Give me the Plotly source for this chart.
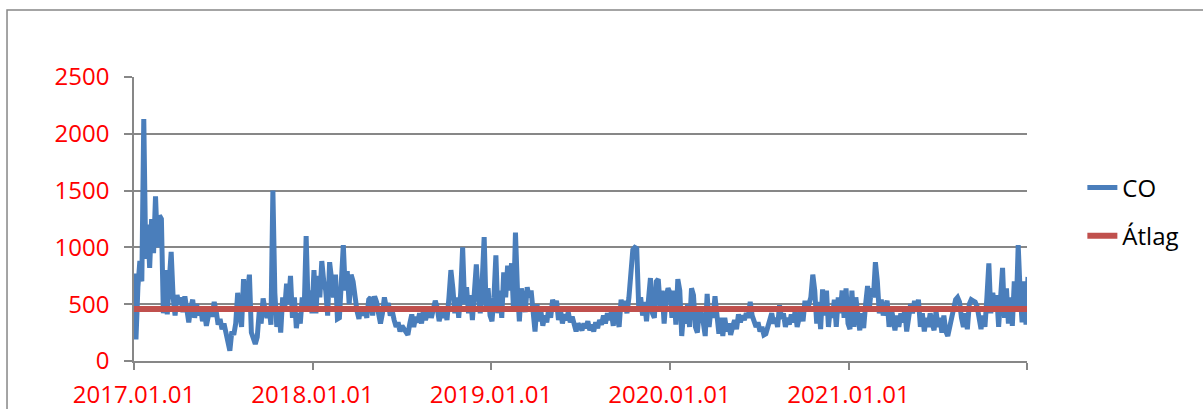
import pandas as pd
import plotly.graph_objects as go

# CO readings, one value every 4 days
co_2017 = [770, 190, 650, 880, 700, 2130, 900, 1200, 820, 1250, 950, 1450, 1000, 1280, 1250, 420,
           800, 410, 700, 960, 560, 400, 580, 500, 560, 430, 570, 440, 340, 470, 540, 380,
           500, 400, 480, 350, 430, 310, 420, 480, 390, 520, 440, 320, 370, 280, 330, 250,
           180, 90, 260, 230, 330, 600, 420, 300, 720, 450, 600, 760, 250, 180, 150, 210,
           430, 330, 550, 450, 380, 480, 320, 1500, 600, 300, 480, 250, 560, 450, 680, 500,
           750, 380, 560, 290, 420, 330, 560, 450, 1100, 480, 620, 420]
co_2018 = [800, 420, 750, 560, 880, 700, 620, 400, 870, 720, 560, 760, 370, 380, 700, 1020,
           620, 790, 500, 760, 700, 520, 440, 370, 480, 400, 450, 380, 540, 560, 400, 570,
           520, 420, 330, 420, 560, 470, 510, 400, 440, 360, 300, 340, 260, 310, 280, 240,
           230, 330, 410, 300, 390, 340, 420, 330, 450, 360, 410, 470, 380, 440, 530, 470,
           350, 440, 380, 460, 360, 560, 800, 640, 420, 560, 380, 600, 1000, 500, 650, 420,
           580, 360, 620, 850, 560, 420, 700, 1090, 460, 640, 400]
co_2019 = [350, 560, 930, 420, 620, 380, 780, 560, 840, 620, 860, 450, 1130, 640, 350, 640,
           560, 430, 650, 560, 620, 480, 260, 500, 350, 440, 310, 400, 340, 460, 380, 540,
           470, 530, 360, 450, 330, 410, 360, 430, 340, 390, 300, 260, 330, 300, 270, 330,
           290, 350, 270, 320, 260, 340, 290, 360, 320, 400, 330, 420, 360, 430, 310, 470,
           380, 300, 540, 460, 530, 420, 560, 800, 980, 1000, 990, 480, 560, 400, 520, 350,
           600, 730, 420, 380, 700, 720, 480, 620, 330, 560, 640]
co_2020 = [600, 380, 620, 320, 720, 620, 220, 440, 330, 500, 300, 640, 580, 300, 250, 460,
           420, 340, 220, 590, 300, 470, 380, 570, 330, 240, 380, 220, 380, 260, 330, 230,
           300, 360, 280, 410, 340, 400, 360, 420, 380, 520, 400, 340, 300, 340, 260, 300,
           230, 240, 290, 360, 420, 330, 380, 300, 490, 370, 420, 300, 380, 320, 410, 340,
           440, 300, 380, 450, 350, 530, 440, 500, 560, 760, 620, 330, 520, 280, 630, 400,
           620, 300, 470, 380, 540, 300, 560, 420, 620, 380, 640, 330]
co_2021 = [280, 620, 300, 560, 380, 270, 420, 290, 500, 660, 480, 640, 560, 870, 700, 420,
           540, 400, 480, 530, 300, 480, 380, 270, 400, 300, 420, 340, 450, 260, 380, 500,
           420, 530, 440, 540, 300, 420, 260, 380, 300, 420, 330, 270, 440, 300, 380, 250,
           400, 260, 220, 330, 380, 460, 540, 560, 520, 380, 300, 420, 280, 500, 540, 530,
           520, 480, 360, 280, 400, 300, 560, 860, 420, 600, 470, 580, 300, 560, 820, 380,
           640, 330, 560, 310, 700, 450, 1020, 600, 340, 700, 320, 740]

co_values = co_2017 + co_2018 + co_2019 + co_2020 + co_2021
dates = pd.date_range("2017-01-01", periods=len(co_values), freq="4D")
atlag = 458

tick_dates = ["2017-01-01", "2018-01-01", "2019-01-01", "2020-01-01", "2021-01-01", "2022-01-01"]
tick_labels = ["2017.01.01", "2018.01.01", "2019.01.01", "2020.01.01", "2021.01.01", ""]
y_ticks = [0, 500, 1000, 1500, 2000, 2500]

GRID = "#878787"
FONT = "Open Sans, sans-serif"

fig = go.Figure()
fig.add_trace(
    go.Scatter(
        x=dates,
        y=co_values,
        mode="lines",
        name="CO",
        legendgroup="co",
        line=dict(color="#4A7EBB", width=5),
    )
)
fig.add_trace(
    go.Scatter(
        x=[dates[0], pd.Timestamp("2022-01-01")],
        y=[atlag, atlag],
        mode="lines",
        name="Átlag",
        legendgroup="atlag",
        line=dict(color="#C0504D", width=6),
    )
)

fig.update_layout(
    width=1203,
    height=409,
    margin=dict(l=134, r=176, t=77, b=48, autoexpand=False),
    paper_bgcolor="white",
    plot_bgcolor="white",
    font=dict(family=FONT, color="black", size=24),
    legend=dict(
        x=1.062,
        xanchor="left",
        y=0.525,
        yanchor="middle",
        traceorder="grouped",
        tracegroupgap=14,
        font=dict(size=24, color="black"),
        bgcolor="rgba(0,0,0,0)",
    ),
    shapes=[
        dict(
            type="rect",
            xref="paper",
            yref="paper",
            x0=-0.1422,
            x1=1.4,
            y0=-0.4,
            y1=1.236,
            line=dict(color=GRID, width=1.5),
            layer="below",
        )
    ],
)
fig.update_xaxes(
    range=["2017-01-01", "2022-01-01"],
    tickvals=tick_dates,
    ticktext=tick_labels,
    ticks="outside",
    ticklen=7,
    tickwidth=1.5,
    tickcolor=GRID,
    showline=True,
    linecolor=GRID,
    linewidth=1.5,
    showgrid=False,
    zeroline=False,
    automargin=False,
    tickfont=dict(color="#FF0000", size=24, family=FONT),
    ticklabelstandoff=4,
)
fig.update_yaxes(
    range=[0, 2500],
    tickvals=y_ticks,
    ticks="outside",
    ticklen=8,
    tickwidth=1.5,
    tickcolor=GRID,
    showline=True,
    linecolor=GRID,
    linewidth=1.5,
    showgrid=True,
    gridcolor=GRID,
    gridwidth=1.5,
    zeroline=False,
    automargin=False,
    tickfont=dict(color="#FF0000", size=24, family=FONT),
    ticklabelstandoff=10,
)

# page body has an 8px default margin; drop it so the figure sits at the window corner
fig.write_html(
    "out.html",
    config={"displayModeBar": False},
    post_script="document.body.style.margin='0';",
)
